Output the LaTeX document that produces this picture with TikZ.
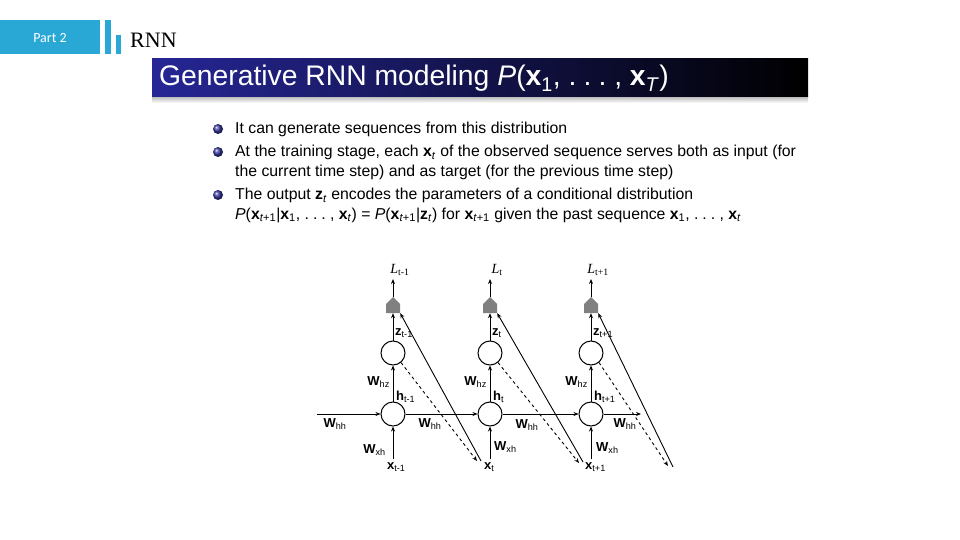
\documentclass[tikz,border=0pt]{standalone}
\usepackage{fontspec}
\setmainfont{Liberation Sans}
\newfontfamily\serifrnn{Liberation Serif}
\newfontfamily\carl{Carlito}
\usetikzlibrary{arrows.meta}
\definecolor{hdrblue}{RGB}{41,168,214}
\definecolor{bannerblue}{RGB}{38,38,150}
\definecolor{ballblue}{RGB}{55,55,160}
\definecolor{pentgray}{RGB}{128,128,128}
\newcommand\dlab[2]{\textbf{#1}\textsubscript{\mdseries #2}}
\newcommand\bx[1]{\textbf{x}\textsubscript{#1}}
\newcommand\sdots{.\hspace{0.25em}.\hspace{0.25em}.}
\tikzset{
  arr/.style={-{Stealth[length=5pt,width=4pt]}, line width=0.9pt},
  cell/.style={circle, draw, line width=1pt, minimum size=24pt, inner sep=0pt},
  pent/.style={inner sep=0pt, minimum width=14pt, minimum height=16pt},
  lab/.style={font=\fontsize{13}{14}\selectfont, inner sep=1pt},
  llab/.style={font=\serifrnn\fontsize{14}{15}\selectfont, inner sep=1pt},
  btext/.style={font=\fontsize{15.8}{17}\selectfont, anchor=base west, inner sep=0pt},
  bullet/.style={circle, inner sep=0pt, minimum size=10pt, shading=ball, ball color=ballblue}
}
\begin{document}
\begin{tikzpicture}[x=1pt,y=-1pt]
\useasboundingbox (0,0) rectangle (960,540);
% header
\fill[hdrblue] (0,20) rectangle (100,54);
\fill[hdrblue] (105,20) rectangle (111,54);
\fill[hdrblue] (116,35) rectangle (121,54);
\node[anchor=base, text=white, font=\carl\fontsize{14}{16}\selectfont, inner sep=0pt] (part) at (50,43) {Part 2};
\node[anchor=base west, font=\serifrnn\fontsize{22}{24}\selectfont, inner sep=0pt] (rnn) at (130,48) {RNN};
% banner
\shade[top color=black!30, bottom color=white] (152,96) rectangle (808,103);
\shade[left color=bannerblue, right color=black] (152,59) rectangle (808,97);
\node[anchor=base west, text=white, font=\fontsize{28.3}{30}\selectfont, inner sep=0pt] (title) at (159,86)
  {Generative RNN modeling \textit{P}(\bx{1}, \sdots\ , \bx{\textit{T}})};
% bullets
\node[bullet] (b1) at (218,129) {};
\node[bullet] (b2) at (218,152) {};
\node[bullet] (b3) at (218,195) {};
\node[btext] (t1) at (235,134) {It can generate sequences from this distribution};
\node[btext] (t2) at (235,157) {At the training stage, each \bx{\textit{t}} of the observed sequence serves both as input (for};
\node[btext] (t3) at (235,177) {the current time step) and as target (for the previous time step)};
\node[btext] (t4) at (235,200) {The output \textbf{z}\textsubscript{\textit{t}} encodes the parameters of a conditional distribution};
\node[btext] (t5) at (235,219) {\textit{P}(\bx{\textit{t}+1}|\bx{1}, \sdots\ , \bx{\textit{t}}) = \textit{P}(\bx{\textit{t}+1}|\textbf{z}\textsubscript{\textit{t}}) for \bx{\textit{t}+1} given the past sequence \bx{1}, \sdots\ , \bx{\textit{t}}};
% diagram
\foreach \i/\c/\s in {1/393/t-1, 2/490/t, 3/591/t+1}{
  \fill[pentgray] (\c-7,313) -- (\c-7,304) -- (\c,297) -- (\c+7,304) -- (\c+7,313) -- cycle;
  \node[pent] (p\i) at (\c,305) {};
  \node[cell] (u\i) at (\c,353) {};
  \node[cell] (d\i) at (\c,414) {};
  \node[llab] (L\i) at (\c+7,270) {\textit{L}\textsubscript{\s}};
  \node[lab, anchor=west] (z\i) at (\c+1,333) {\dlab{z}{\s}};
  \node[lab, anchor=west] (h\i) at (\c+2,397) {\dlab{h}{\s}};
  \node[lab, anchor=east] (whz\i) at (\c-2,382) {\dlab{W}{hz}};
  \node[lab, anchor=west] (x\i) at (\c-7,467) {\dlab{x}{\s}};
  \coordinate (i\i) at (\c,459);
  \draw[arr] (p\i.north) -- (\c,279);
  \draw[arr] (u\i.north) -- (p\i.south);
  \draw[arr] (d\i.north) -- (u\i.south);
  \draw[arr] (i\i) -- (d\i.south);
}
\node[lab, anchor=east] (wxh1) at (387,450) {\dlab{W}{xh}};
\node[lab, anchor=west] (wxh2) at (493,447) {\dlab{W}{xh}};
\node[lab, anchor=west] (wxh3) at (595,448) {\dlab{W}{xh}};
\node[lab] (whh0) at (335,424) {\dlab{W}{hh}};
\node[lab] (whh1) at (430,424) {\dlab{W}{hh}};
\node[lab] (whh2) at (527,425) {\dlab{W}{hh}};
\node[lab] (whh3) at (625,424) {\dlab{W}{hh}};
\coordinate (hin) at (317,414);
\coordinate (hout) at (641,414);
\draw[arr] (hin) -- (d1.west);
\draw[arr] (d1.east) -- (d2.west);
\draw[arr] (d2.east) -- (d3.west);
\draw[arr] (d3.east) -- (hout);
% diagonals
\coordinate (s1) at (481,461);
\coordinate (s2) at (583,462);
\coordinate (s3) at (673,467);
\coordinate (e1) at (477,461);
\coordinate (e2) at (579,463);
\coordinate (e3) at (668,466);
\draw[arr] (s1) -- (p1.south east);
\draw[arr] (s2) -- (p2.south east);
\draw[arr] (s3) -- (p3.south east);
\draw[arr, dashed] (u1.-50) -- (e1);
\draw[arr, dashed] (u2.-50) -- (e2);
\draw[arr, dashed] (u3.-50) -- (e3);
\end{tikzpicture}
\end{document}
